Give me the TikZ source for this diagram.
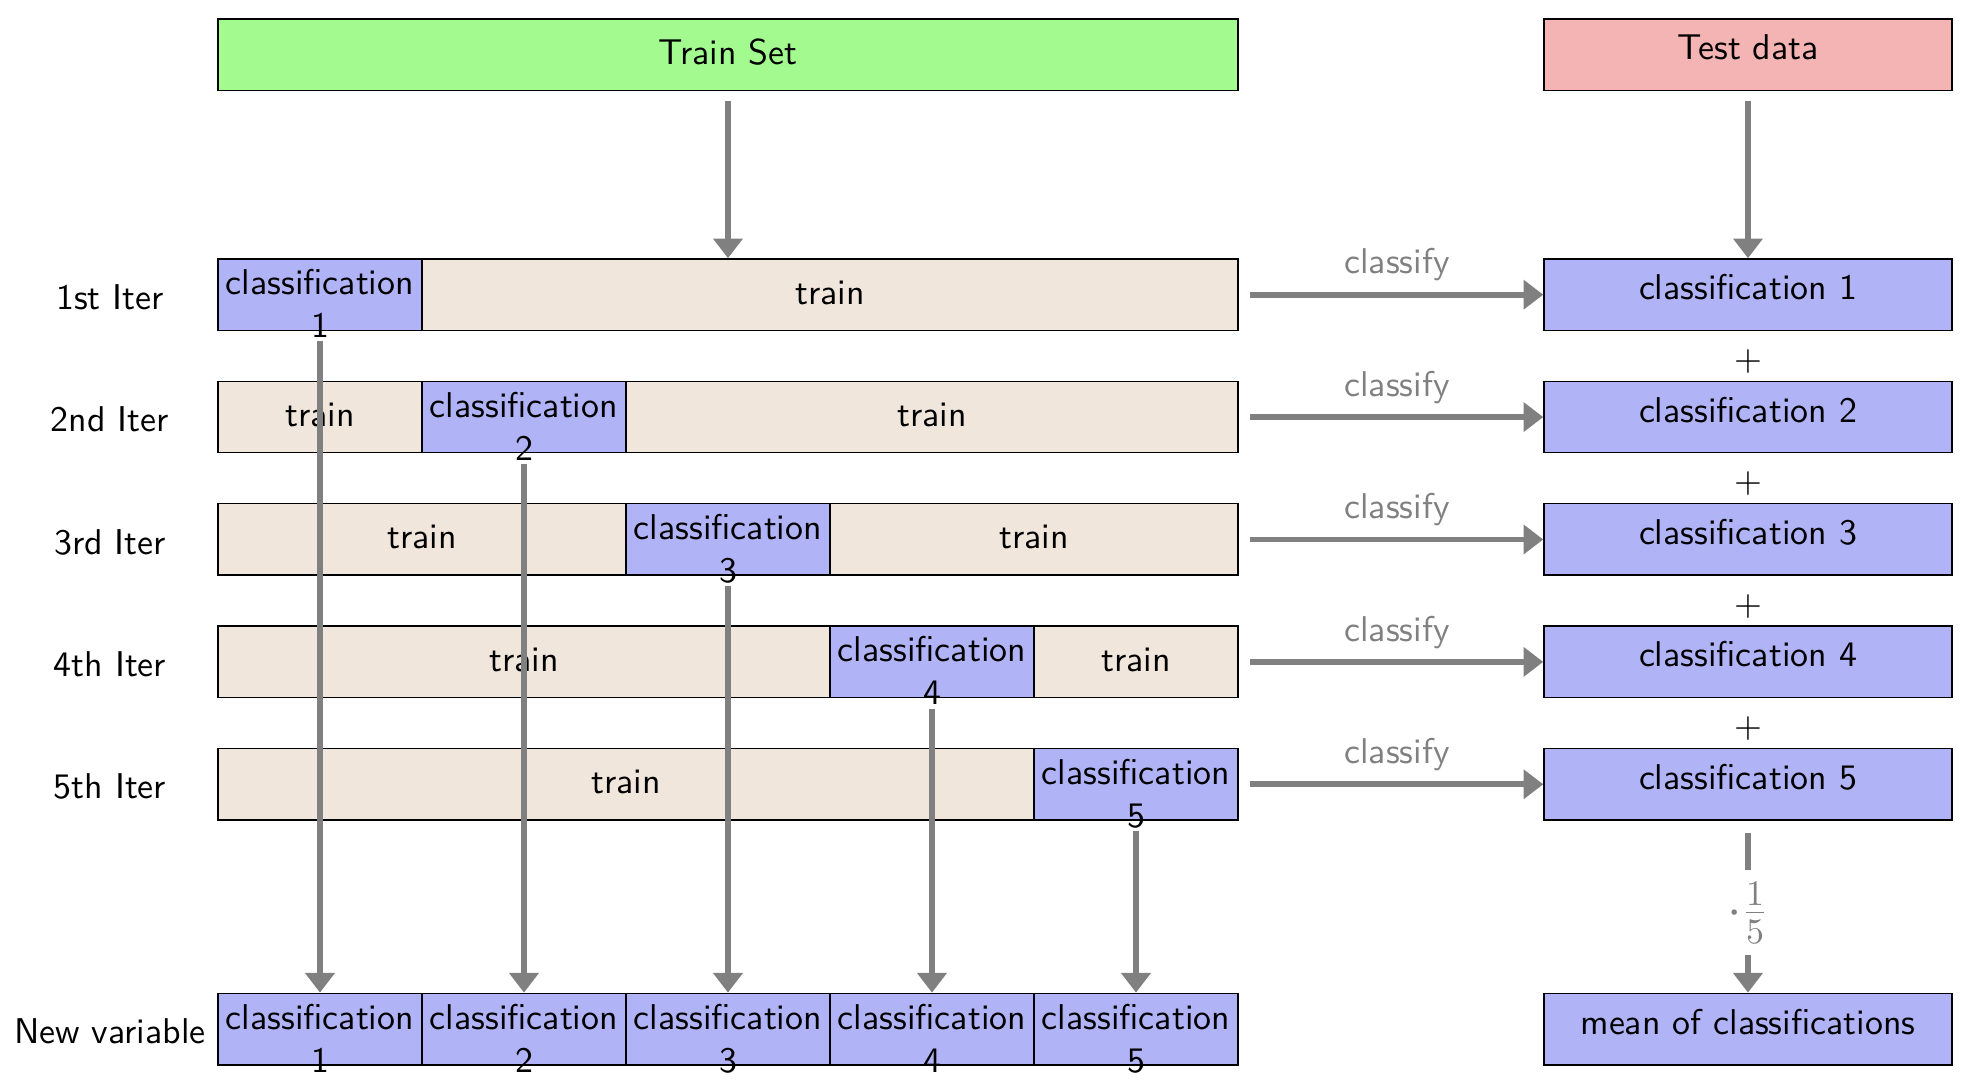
\documentclass[tikz,border=0pt]{standalone}
\usetikzlibrary{arrows.meta,calc}
\definecolor{cgreen}{RGB}{163,251,143}
\definecolor{cpink}{RGB}{244,180,180}
\definecolor{cblue}{RGB}{177,179,247}
\definecolor{cbeige}{RGB}{240,230,219}
\begin{document}
\begin{tikzpicture}[
  every node/.style={font=\sffamily},
  cell/.style={draw=black, line width=0.4pt, minimum height=0.7cm, inner sep=0pt, anchor=center},
  trainc/.style={cell, fill=cbeige, text height=8.6pt, text depth=3.4pt},
  clsc/.style={cell, fill=cblue, text width=2cm, minimum width=2cm, align=center, text height=5.7pt, text depth=5.7pt},
  rbox/.style={cell, fill=cblue, minimum width=4cm, text height=6.3pt, text depth=3.5pt},
  arr/.style={draw=gray, line width=1.6pt, -{Triangle[length=5.5pt,width=8pt]}},
  lbl/.style={text=gray},
  rowlbl/.style={anchor=center, yshift=-0.7pt},
  plus/.style={inner sep=0pt},
]
\useasboundingbox (0,0) rectangle (19.255,-10.686);

% headers
\node[cell, fill=cgreen, minimum width=10cm, text height=8.9pt, text depth=3.5pt] (ts) at (7.137,-0.536) {Train Set};
\node[cell, fill=cpink, minimum width=4cm, text height=6.3pt, text depth=3.5pt] (td) at (17.137,-0.536) {Test data};

% row labels
\node[rowlbl] (l1) at (1.078,-2.889) {1st Iter};
\node[rowlbl] (l2) at (1.078,-4.089) {2nd Iter};
\node[rowlbl] (l3) at (1.078,-5.289) {3rd Iter};
\node[rowlbl] (l4) at (1.078,-6.489) {4th Iter};
\node[rowlbl] (l5) at (1.078,-7.689) {5th Iter};
\node[rowlbl] (l6) at (1.078,-10.089) {New variable};

% row 1
\node[clsc] (r1c) at (3.137,-2.889) {classification\\1};
\node[trainc, minimum width=8cm] (r1t) at (8.137,-2.889) {train};
% row 2
\node[trainc, minimum width=2cm] (r2t1) at (3.137,-4.089) {train};
\node[clsc] (r2c) at (5.137,-4.089) {classification\\2};
\node[trainc, minimum width=6cm] (r2t2) at (9.137,-4.089) {train};
% row 3
\node[trainc, minimum width=4cm] (r3t1) at (4.137,-5.289) {train};
\node[clsc] (r3c) at (7.137,-5.289) {classification\\3};
\node[trainc, minimum width=4cm] (r3t2) at (10.137,-5.289) {train};
% row 4
\node[trainc, minimum width=6cm] (r4t1) at (5.137,-6.489) {train};
\node[clsc] (r4c) at (9.137,-6.489) {classification\\4};
\node[trainc, minimum width=2cm] (r4t2) at (11.137,-6.489) {train};
% row 5
\node[trainc, minimum width=8cm] (r5t1) at (6.137,-7.689) {train};
\node[clsc] (r5c) at (11.137,-7.689) {classification\\5};
% new variable
\node[clsc] (nv1) at (3.137,-10.089) {classification\\1};
\node[clsc] (nv2) at (5.137,-10.089) {classification\\2};
\node[clsc] (nv3) at (7.137,-10.089) {classification\\3};
\node[clsc] (nv4) at (9.137,-10.089) {classification\\4};
\node[clsc] (nv5) at (11.137,-10.089) {classification\\5};

% right column
\node[rbox] (c1) at (17.137,-2.889) {classification 1};
\node[rbox] (c2) at (17.137,-4.089) {classification 2};
\node[rbox] (c3) at (17.137,-5.289) {classification 3};
\node[rbox] (c4) at (17.137,-6.489) {classification 4};
\node[rbox] (c5) at (17.137,-7.689) {classification 5};
\node[rbox] (mean) at (17.137,-10.089) {mean of classifications};

% plus signs
\node[plus] (p1) at ($(c1.south)!0.5!(c2.north)+(0,-1.55pt)$) {$+$};
\node[plus] (p2) at ($(c2.south)!0.5!(c3.north)+(0,-1.55pt)$) {$+$};
\node[plus] (p3) at ($(c3.south)!0.5!(c4.north)+(0,-1.55pt)$) {$+$};
\node[plus] (p4) at ($(c4.south)!0.5!(c5.north)+(0,-1.55pt)$) {$+$};

% top arrows
\draw[arr, shorten <=0.1cm] (ts.south) -- (ts.south |- r1t.north);
\draw[arr, shorten <=0.1cm] (td.south) -- (c1.north);

% classify arrows
\draw[arr, shorten <=0.108cm] (r1t.east) -- node[pos=0.52, above=-0.4pt, lbl] {classify} (c1.west);
\draw[arr, shorten <=0.108cm] (r2t2.east) -- node[pos=0.52, above=-0.4pt, lbl] {classify} (c2.west);
\draw[arr, shorten <=0.108cm] (r3t2.east) -- node[pos=0.52, above=-0.4pt, lbl] {classify} (c3.west);
\draw[arr, shorten <=0.108cm] (r4t2.east) -- node[pos=0.52, above=-0.4pt, lbl] {classify} (c4.west);
\draw[arr, shorten <=0.108cm] (r5c.east) -- node[pos=0.52, above=-0.4pt, lbl] {classify} (c5.west);

% down arrows to new variable
\draw[arr, shorten <=0.1cm] (r1c.south) -- (nv1.north);
\draw[arr, shorten <=0.1cm] (r2c.south) -- (nv2.north);
\draw[arr, shorten <=0.1cm] (r3c.south) -- (nv3.north);
\draw[arr, shorten <=0.1cm] (r4c.south) -- (nv4.north);
\draw[arr, shorten <=0.1cm] (r5c.south) -- (nv5.north);

% mean arrow
\draw[arr, shorten <=0.12cm] (c5.south) -- node[pos=0.535, fill=white, text=gray, font=\Large, inner sep=3.33pt] (frac) {$\cdot\frac{1}{5}$} (mean.north);
\end{tikzpicture}
\end{document}
